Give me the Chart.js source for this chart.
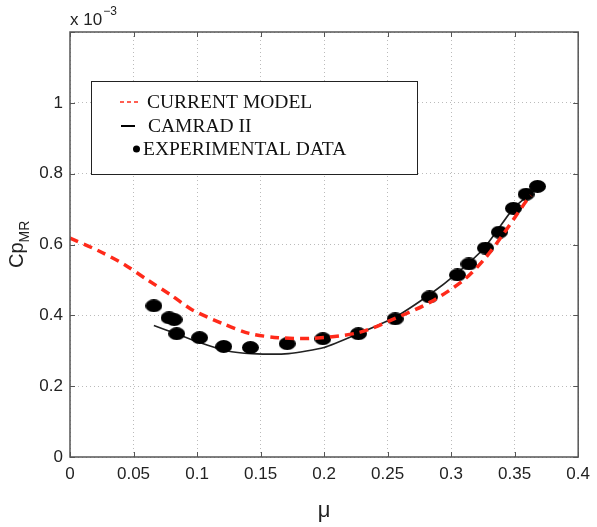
<!DOCTYPE html>
<html>
<head>
<meta charset="utf-8">
<script src="https://cdn.jsdelivr.net/npm/chart.js@4"></script>
<style>
  body { margin: 0; background: #fff; }
  #wrap { width: 597px; height: 527px; }
</style>
</head>
<body>
<div id="wrap"><canvas id="myChart" width="597" height="527"></canvas></div>
<script>
// values in units of 1e-3 (axis shows "x 10^-3")
const modelMu = [0, 0.022, 0.043, 0.061, 0.08, 0.096, 0.12, 0.141, 0.164, 0.19, 0.227, 0.255, 0.284, 0.31, 0.326, 0.341, 0.359, 0.363];
const modelCp = [0.618, 0.583, 0.543, 0.5, 0.456, 0.416, 0.377, 0.349, 0.337, 0.335, 0.351, 0.39, 0.438, 0.5, 0.558, 0.629, 0.722, 0.738];

const camradMu = [0.066, 0.084, 0.102, 0.123, 0.143, 0.172, 0.2, 0.227, 0.255, 0.284, 0.305, 0.326, 0.349, 0.362, 0.366];
const camradCp = [0.371, 0.348, 0.323, 0.3, 0.292, 0.292, 0.309, 0.348, 0.393, 0.461, 0.52, 0.59, 0.702, 0.742, 0.755];

const expMu = [0.066, 0.078, 0.082, 0.084, 0.102, 0.121, 0.142, 0.171, 0.199, 0.227, 0.256, 0.283, 0.305, 0.314, 0.327, 0.338, 0.349, 0.359, 0.368];
const expCp = [0.427, 0.393, 0.388, 0.348, 0.337, 0.312, 0.309, 0.32, 0.334, 0.348, 0.39, 0.452, 0.514, 0.545, 0.59, 0.635, 0.702, 0.742, 0.764];

const xTicks = [0, 0.05, 0.1, 0.15, 0.2, 0.25, 0.3, 0.35, 0.4];
const yTicks = [0, 0.2, 0.4, 0.6, 0.8, 1, 1.2];
const legendLabels = ["CURRENT MODEL", "CAMRAD II", "EXPERIMENTAL DATA"];

const sansFont = "'Liberation Sans', Arial, Helvetica, sans-serif";
const serifFont = "'Liberation Serif', 'Times New Roman', serif";
const red = "#ff2a1a";

function toPoints(xs, ys) {
  return xs.map((x, i) => ({ x: x, y: ys[i] }));
}

// the markers in the figure are a bit wider than tall
function ellipseMarker(w, h) {
  const cv = document.createElement("canvas");
  cv.width = w;
  cv.height = h;
  const g = cv.getContext("2d");
  g.fillStyle = "#000";
  g.beginPath();
  g.ellipse(w / 2, h / 2, w / 2, h / 2, 0, 0, Math.PI * 2);
  g.fill();
  return cv;
}

// box, inward ticks, titles and the legend, drawn like the matlab figure
const matlabDecor = {
  id: "matlabDecor",
  afterDraw(chart) {
    const c = chart.ctx;
    const a = chart.chartArea;
    const xs = chart.scales.x;
    const ys = chart.scales.y;

    c.save();
    c.strokeStyle = "#555";
    c.lineWidth = 1.5;
    c.strokeRect(a.left, a.top, a.right - a.left, a.bottom - a.top);

    c.lineWidth = 1;
    c.beginPath();
    xTicks.forEach((t) => {
      const px = Math.round(xs.getPixelForValue(t)) + 0.5;
      c.moveTo(px, a.bottom); c.lineTo(px, a.bottom - 5);
      c.moveTo(px, a.top); c.lineTo(px, a.top + 5);
    });
    yTicks.forEach((t) => {
      const py = Math.round(ys.getPixelForValue(t)) + 0.5;
      c.moveTo(a.left, py); c.lineTo(a.left + 5, py);
      c.moveTo(a.right, py); c.lineTo(a.right - 5, py);
    });
    c.stroke();

    // x title
    c.fillStyle = "#222";
    c.font = "22px " + sansFont;
    c.textAlign = "center";
    c.textBaseline = "alphabetic";
    c.fillText("\u03bc", (a.left + a.right) / 2, 517);

    // exponent label
    c.textAlign = "left";
    c.font = "17px " + sansFont;
    c.fillText("x 10", a.left, 25);
    const w = c.measureText("x 10").width;
    c.font = "12px " + sansFont;
    c.fillText("\u22123", a.left + w + 1, 15);

    // y title, rotated
    c.translate(23, 268);
    c.rotate(-Math.PI / 2);
    c.font = "20px " + sansFont;
    c.fillText("Cp", 0, 0);
    const cw = c.measureText("Cp").width;
    c.font = "14px " + sansFont;
    c.fillText("MR", cw, 6);
    c.setTransform(1, 0, 0, 1, 0, 0);

    // legend
    const bx = 91, by = 81, bw = 326, bh = 93;
    c.fillStyle = "#fff";
    c.fillRect(bx, by, bw, bh);
    c.strokeStyle = "#222";
    c.lineWidth = 1;
    c.strokeRect(bx + 0.5, by + 0.5, bw, bh);

    const rows = [102, 126, 149];
    c.lineWidth = 1.5;
    c.strokeStyle = red;
    c.setLineDash([4, 3]);
    c.beginPath(); c.moveTo(120, rows[0]); c.lineTo(138, rows[0]); c.stroke();
    c.setLineDash([]);
    c.strokeStyle = "#000";
    c.lineWidth = 2;
    c.beginPath(); c.moveTo(121, rows[1]); c.lineTo(135, rows[1]); c.stroke();
    c.fillStyle = "#000";
    c.beginPath(); c.arc(136.5, rows[2], 3.5, 0, Math.PI * 2); c.fill();

    c.font = "19.5px " + serifFont;
    c.textBaseline = "middle";
    c.fillStyle = "#111";
    c.fillText(legendLabels[0], 147, rows[0] + 1);
    c.fillText(legendLabels[1], 148, rows[1] + 1);
    c.fillText(legendLabels[2], 143, rows[2] + 1);
    c.restore();
  },
};

const ctx = document.getElementById("myChart").getContext("2d");
const myChart = new Chart(ctx, {
  type: "scatter",
  data: {
    datasets: [
      {
        label: legendLabels[0],
        data: toPoints(modelMu, modelCp),
        showLine: true,
        borderColor: red,
        borderWidth: 3.5,
        borderDash: [9, 6],
        pointRadius: 0,
        tension: 0.3,
        order: 0,
      },
      {
        label: legendLabels[1],
        data: toPoints(camradMu, camradCp),
        showLine: true,
        borderColor: "#222",
        borderWidth: 1.6,
        pointRadius: 0,
        tension: 0.2,
        order: 2,
      },
      {
        label: legendLabels[2],
        data: toPoints(expMu, expCp),
        showLine: false,
        pointStyle: ellipseMarker(17, 13),
        order: 1,
      },
    ],
  },
  options: {
    responsive: false,
    animation: false,
    layout: { padding: { top: 32, right: 16, left: 0, bottom: 0 } },
    plugins: { legend: { display: false }, tooltip: { enabled: false } },
    scales: {
      x: {
        type: "linear",
        min: 0,
        max: 0.4,
        afterFit: (scale) => { scale.height = 70; },
        afterBuildTicks: (scale) => { scale.ticks = xTicks.map((v) => ({ value: v })); },
        ticks: {
          padding: 7,
          color: "#222",
          font: { family: sansFont, size: 17 },
          callback: (v) => String(parseFloat(v.toFixed(2))),
        },
        grid: { color: "#bbb", lineWidth: 1, drawTicks: false },
        border: { display: false, dash: [1, 3] },
      },
      y: {
        min: 0,
        max: 1.2,
        afterFit: (scale) => { scale.width = 70; },
        afterBuildTicks: (scale) => { scale.ticks = yTicks.map((v) => ({ value: v })); },
        ticks: {
          padding: 7,
          color: "#222",
          font: { family: sansFont, size: 17 },
          callback: (v) => (v > 1.1 ? "" : String(parseFloat(v.toFixed(1)))),
        },
        grid: { color: "#bbb", lineWidth: 1, drawTicks: false },
        border: { display: false, dash: [1, 3] },
      },
    },
  },
  plugins: [matlabDecor],
});
</script>
</body>
</html>
